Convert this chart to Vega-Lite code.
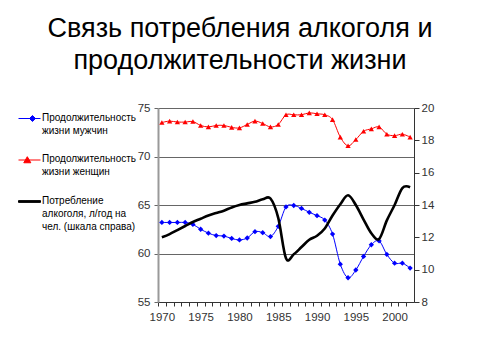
{
  "$schema": "https://vega.github.io/schema/vega-lite/v6.json",
  "width": 256,
  "height": 194,
  "autosize": {"type": "none"},
  "padding": {"left": 158, "top": 108, "right": 66, "bottom": 58},
  "background": "white",
  "config": {
    "view": {"stroke": null},
    "font": "Liberation Sans",
    "axis": {"labelFont": "Liberation Sans", "labelFontSize": 11.5, "labelColor": "#333"},
    "legend": {"symbolSize": 484}
  },
  "title": {
    "text": ["Связь потребления алкоголя и", "продолжительности жизни"],
    "font": "Liberation Sans",
    "fontSize": 27,
    "fontWeight": "normal",
    "color": "#000",
    "lineHeight": 32,
    "anchor": "middle",
    "frame": "group",
    "dx": -46,
    "offset": 27
  },
  "data": {
    "values": [
      {"year": 1970, "series": "Мужчины", "value": 63.2},
      {"year": 1971, "series": "Мужчины", "value": 63.2},
      {"year": 1972, "series": "Мужчины", "value": 63.2},
      {"year": 1973, "series": "Мужчины", "value": 63.2},
      {"year": 1974, "series": "Мужчины", "value": 63.0},
      {"year": 1975, "series": "Мужчины", "value": 62.5},
      {"year": 1976, "series": "Мужчины", "value": 62.1},
      {"year": 1977, "series": "Мужчины", "value": 61.85},
      {"year": 1978, "series": "Мужчины", "value": 61.8},
      {"year": 1979, "series": "Мужчины", "value": 61.55},
      {"year": 1980, "series": "Мужчины", "value": 61.4},
      {"year": 1981, "series": "Мужчины", "value": 61.6},
      {"year": 1982, "series": "Мужчины", "value": 62.25},
      {"year": 1983, "series": "Мужчины", "value": 62.15},
      {"year": 1984, "series": "Мужчины", "value": 61.75},
      {"year": 1985, "series": "Мужчины", "value": 62.8},
      {"year": 1986, "series": "Мужчины", "value": 64.8},
      {"year": 1987, "series": "Мужчины", "value": 64.95},
      {"year": 1988, "series": "Мужчины", "value": 64.65},
      {"year": 1989, "series": "Мужчины", "value": 64.25},
      {"year": 1990, "series": "Мужчины", "value": 63.9},
      {"year": 1991, "series": "Мужчины", "value": 63.45},
      {"year": 1992, "series": "Мужчины", "value": 62.0},
      {"year": 1993, "series": "Мужчины", "value": 58.9},
      {"year": 1994, "series": "Мужчины", "value": 57.5},
      {"year": 1995, "series": "Мужчины", "value": 58.3},
      {"year": 1996, "series": "Мужчины", "value": 59.7},
      {"year": 1997, "series": "Мужчины", "value": 60.9},
      {"year": 1998, "series": "Мужчины", "value": 61.3},
      {"year": 1999, "series": "Мужчины", "value": 59.9},
      {"year": 2000, "series": "Мужчины", "value": 59.0},
      {"year": 2001, "series": "Мужчины", "value": 59.0},
      {"year": 2002, "series": "Мужчины", "value": 58.5},
      {"year": 1970, "series": "Женщины", "value": 73.5},
      {"year": 1971, "series": "Женщины", "value": 73.65},
      {"year": 1972, "series": "Женщины", "value": 73.55},
      {"year": 1973, "series": "Женщины", "value": 73.55},
      {"year": 1974, "series": "Женщины", "value": 73.6},
      {"year": 1975, "series": "Женщины", "value": 73.2},
      {"year": 1976, "series": "Женщины", "value": 73.05},
      {"year": 1977, "series": "Женщины", "value": 73.2},
      {"year": 1978, "series": "Женщины", "value": 73.2},
      {"year": 1979, "series": "Женщины", "value": 73.0},
      {"year": 1980, "series": "Женщины", "value": 72.95},
      {"year": 1981, "series": "Женщины", "value": 73.3},
      {"year": 1982, "series": "Женщины", "value": 73.65},
      {"year": 1983, "series": "Женщины", "value": 73.4},
      {"year": 1984, "series": "Женщины", "value": 73.05},
      {"year": 1985, "series": "Женщины", "value": 73.3},
      {"year": 1986, "series": "Женщины", "value": 74.3},
      {"year": 1987, "series": "Женщины", "value": 74.3},
      {"year": 1988, "series": "Женщины", "value": 74.3},
      {"year": 1989, "series": "Женщины", "value": 74.5},
      {"year": 1990, "series": "Женщины", "value": 74.4},
      {"year": 1991, "series": "Женщины", "value": 74.3},
      {"year": 1992, "series": "Женщины", "value": 73.8},
      {"year": 1993, "series": "Женщины", "value": 72.0},
      {"year": 1994, "series": "Женщины", "value": 71.1},
      {"year": 1995, "series": "Женщины", "value": 71.75},
      {"year": 1996, "series": "Женщины", "value": 72.6},
      {"year": 1997, "series": "Женщины", "value": 72.85},
      {"year": 1998, "series": "Женщины", "value": 73.05},
      {"year": 1999, "series": "Женщины", "value": 72.3},
      {"year": 2000, "series": "Женщины", "value": 72.15},
      {"year": 2001, "series": "Женщины", "value": 72.3},
      {"year": 2002, "series": "Женщины", "value": 72.0},
      {"year": 1970, "series": "Алкоголь", "value": 12.0},
      {"year": 1971, "series": "Алкоголь", "value": 12.2},
      {"year": 1972, "series": "Алкоголь", "value": 12.45},
      {"year": 1973, "series": "Алкоголь", "value": 12.7},
      {"year": 1974, "series": "Алкоголь", "value": 12.95},
      {"year": 1975, "series": "Алкоголь", "value": 13.15},
      {"year": 1976, "series": "Алкоголь", "value": 13.35},
      {"year": 1977, "series": "Алкоголь", "value": 13.5},
      {"year": 1978, "series": "Алкоголь", "value": 13.65},
      {"year": 1979, "series": "Алкоголь", "value": 13.85},
      {"year": 1980, "series": "Алкоголь", "value": 14.0},
      {"year": 1981, "series": "Алкоголь", "value": 14.1},
      {"year": 1982, "series": "Алкоголь", "value": 14.2},
      {"year": 1983, "series": "Алкоголь", "value": 14.35},
      {"year": 1984, "series": "Алкоголь", "value": 14.4},
      {"year": 1985, "series": "Алкоголь", "value": 13.2},
      {"year": 1986, "series": "Алкоголь", "value": 10.7},
      {"year": 1987, "series": "Алкоголь", "value": 10.95},
      {"year": 1988, "series": "Алкоголь", "value": 11.4},
      {"year": 1989, "series": "Алкоголь", "value": 11.85},
      {"year": 1990, "series": "Алкоголь", "value": 12.1},
      {"year": 1991, "series": "Алкоголь", "value": 12.55},
      {"year": 1992, "series": "Алкоголь", "value": 13.35},
      {"year": 1993, "series": "Алкоголь", "value": 14.05},
      {"year": 1994, "series": "Алкоголь", "value": 14.6},
      {"year": 1995, "series": "Алкоголь", "value": 14.0},
      {"year": 1996, "series": "Алкоголь", "value": 13.1},
      {"year": 1997, "series": "Алкоголь", "value": 12.25},
      {"year": 1998, "series": "Алкоголь", "value": 11.9},
      {"year": 1999, "series": "Алкоголь", "value": 13.05},
      {"year": 2000, "series": "Алкоголь", "value": 14.0},
      {"year": 2001, "series": "Алкоголь", "value": 15.05},
      {"year": 2002, "series": "Алкоголь", "value": 15.1}
    ]
  },
  "encoding": {
    "x": {
      "field": "year",
      "type": "quantitative",
      "scale": {"domain": [1969.5, 2002.5], "nice": false, "zero": false},
      "axis": {
        "title": null,
        "values": [1970,1971,1972,1973,1974,1975,1976,1977,1978,1979,1980,1981,1982,1983,1984,1985,1986,1987,1988,1989,1990,1991,1992,1993,1994,1995,1996,1997,1998,1999,2000,2001,2002],
        "format": "d",
        "labelExpr": "datum.value % 5 === 0 ? datum.label : ''",
        "tickOffset": -3.879,
        "labelOffset": 3.879,
        "grid": false,
        "domainColor": "#333",
        "tickColor": "#333",
        "tickSize": 4,
        "labelPadding": 5,
        "labelFlush": false,
        "labelOverlap": false
      }
    },
    "color": {
      "field": "series",
      "type": "nominal",
      "scale": {"domain": ["Мужчины", "Женщины", "Алкоголь"], "range": ["#0000FF", "#FF0000", "#000000"]},
      "legend": {
        "orient": "none",
        "legendX": -140,
        "legendY": -1,
        "title": null,
        "symbolType": "stroke",
        "symbolSize": 484,
        "symbolStrokeWidth": 1,
        "labelFont": "Liberation Sans",
        "labelFontSize": 10,
        "labelColor": "#000",
        "labelLimit": 200,
        "labelOffset": 1,
        "labelBaseline": "top",
        "rowPadding": 12.5,
        "labelExpr": "datum.value === 'Мужчины' ? ['Продолжительность', 'жизни мужчин'] : datum.value === 'Женщины' ? ['Продолжительность', 'жизни женщин'] : ['Потребление', 'алкоголя, л/год на', 'чел. (шкала справа)']",
        "encode": {
          "labels": {"update": {"dy": {"value": -6}, "lineHeight": {"value": 13}}},
          "symbols": {
            "update": {
              "size": {"value": 484},
              "strokeWidth": {"value": 1},
              "shape": {"signal": "datum.value === 'Мужчины' ? 'M-1,0L1,0M0.27,-0.27L0.54,0L0.27,0.27L0,0Z' : datum.value === 'Женщины' ? 'M-1,0L1,0M-0.2,-0.3L0.12,0.25L-0.52,0.25Z' : 'M-1,-0.08L1,-0.08L1,0.08L-1,0.08Z'"},
              "fill": {"signal": "scale('color', datum.value)"}
            }
          }
        }
      }
    }
  },
  "layer": [
    {
      "transform": [{"filter": "datum.series !== 'Алкоголь'"}],
      "mark": {"type": "line", "strokeWidth": 1, "interpolate": "cardinal"},
      "encoding": {
        "y": {
          "field": "value",
          "type": "quantitative",
          "scale": {"domain": [55, 75], "nice": false, "zero": false},
          "axis": {
            "title": null,
            "values": [55, 60, 65, 70, 75],
            "grid": true,
            "gridColor": "#666",
            "gridWidth": 1,
            "domainColor": "#999",
            "domainWidth": 2,
            "tickColor": "#666",
            "tickSize": 4,
            "labelPadding": 4
          }
        }
      }
    },
    {
      "transform": [{"filter": "datum.series !== 'Алкоголь'"}],
      "mark": {"type": "point", "filled": true, "opacity": 1},
      "encoding": {
        "y": {"field": "value", "type": "quantitative", "scale": {"domain": [55, 75], "nice": false, "zero": false}, "axis": null},
        "shape": {
          "field": "series",
          "type": "nominal",
          "scale": {"domain": ["Мужчины", "Женщины"], "range": ["diamond", "triangle-up"]},
          "legend": null
        },
        "size": {"value": 28}
      }
    },
    {
      "transform": [{"filter": "datum.series === 'Алкоголь'"}],
      "mark": {"type": "line", "strokeWidth": 2.6, "interpolate": "cardinal"},
      "encoding": {
        "y": {
          "field": "value",
          "type": "quantitative",
          "scale": {"domain": [8, 20], "nice": false, "zero": false},
          "axis": {
            "title": null,
            "orient": "right",
            "values": [8, 10, 12, 14, 16, 18, 20],
            "grid": false,
            "domainColor": "#333",
            "tickColor": "#333",
            "tickSize": 5,
            "labelPadding": 2
          }
        }
      }
    }
  ],
  "resolve": {"scale": {"y": "independent"}}
}
